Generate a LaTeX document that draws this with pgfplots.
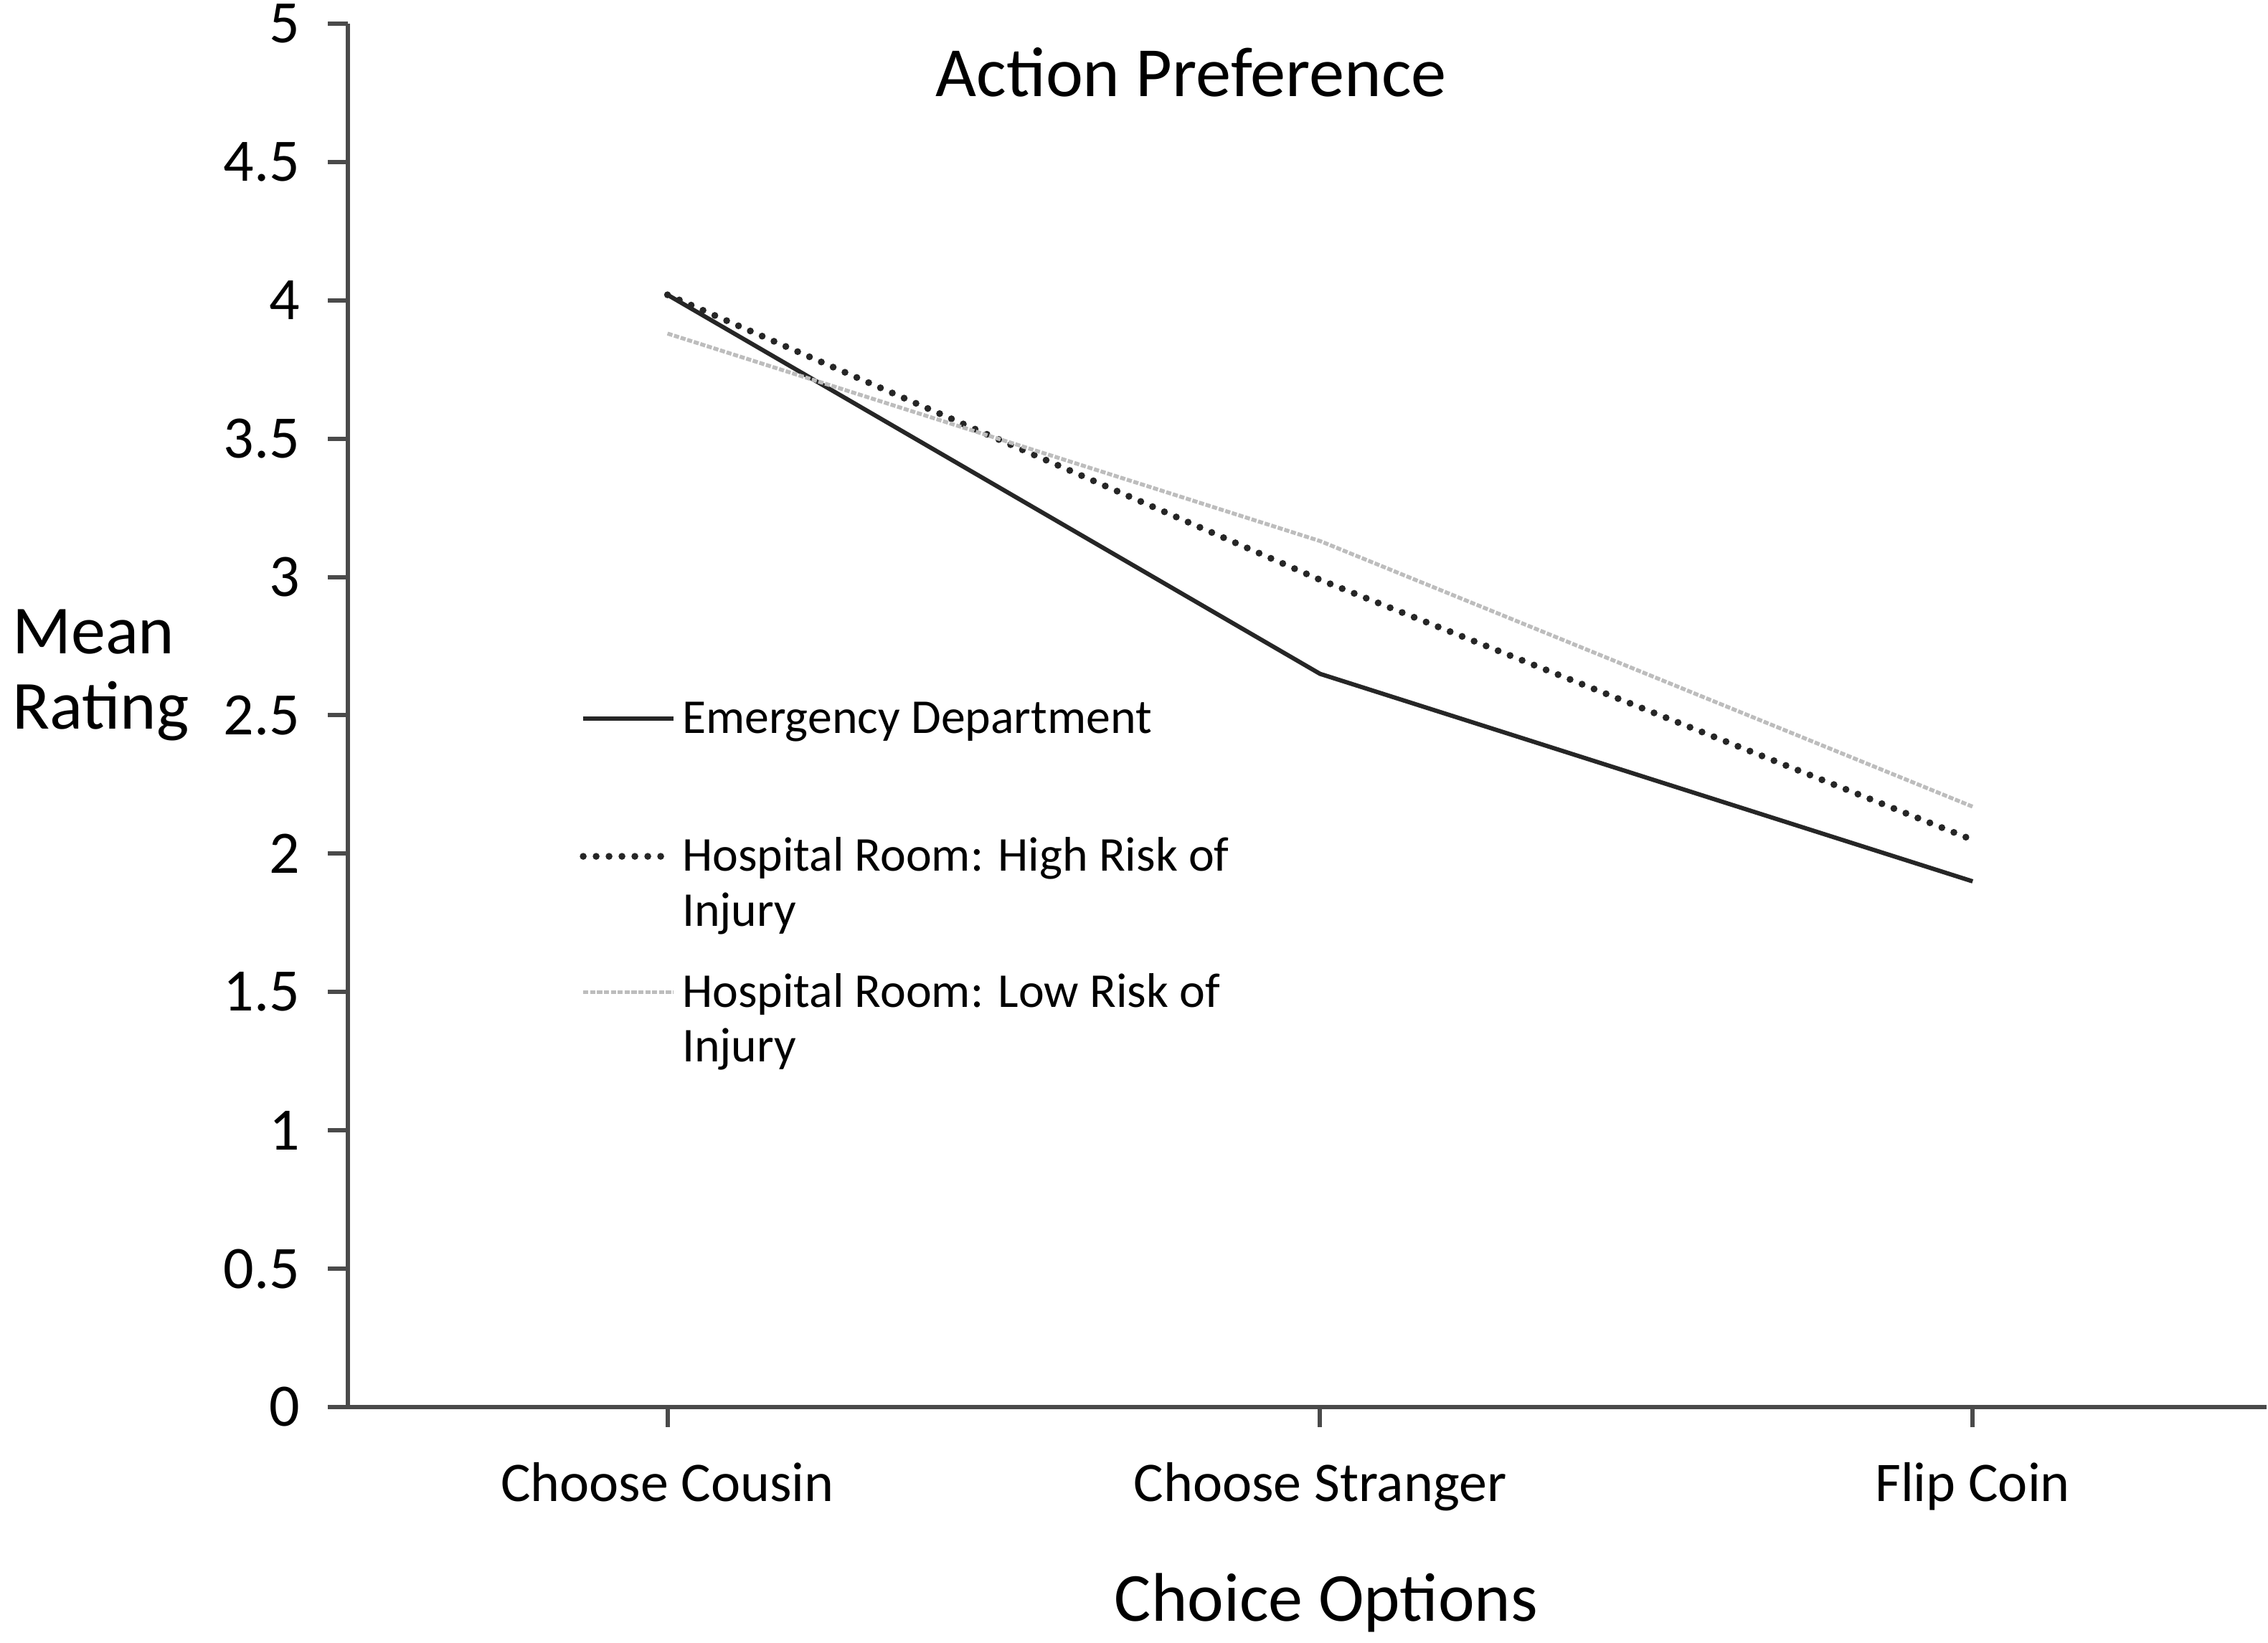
\documentclass[border=0pt]{standalone}
\usepackage{fontspec}
\setmainfont{Carlito}
\usepackage{pgfplots}
\pgfplotsset{compat=1.18}

\definecolor{axisgray}{HTML}{4A4A4A}
\definecolor{lowgray}{HTML}{BDBDBD}

\begin{document}
\begin{tikzpicture}
\useasboundingbox (-80.8pt,-54.8pt) rectangle (446.2pt,327pt);
\begin{axis}[
  width=445.8pt, height=321.5pt, scale only axis,
  xmin=-0.49, xmax=2.45, ymin=0, ymax=5,
  axis lines*=left,
  axis line style={axisgray, line width=1.1pt},
  tick style={axisgray, line width=1pt},
  tick align=outside, major tick length=4.6pt,
  xtick={0,1,2},
  xticklabels={Choose Cousin, Choose Stranger, Flip Coin},
  ytick={0,0.5,1,1.5,2,2.5,3,3.5,4,4.5,5},
  yticklabels={0,0.5,1,1.5,2,2.5,3,3.5,4,4.5,5},
  xticklabel style={font=\fontsize{13}{15}\selectfont, anchor=base, yshift=-17.3pt},
  yticklabel style={font=\fontsize{14}{16}\selectfont, anchor=east, inner sep=0pt, xshift=-6.3pt},
  title={Action Preference},
  every axis title/.style={at={(axis description cs:0.4396,0.9647)}, anchor=center,
    font=\fontsize{16.4}{19}\selectfont},
  xlabel={Choice Options},
  every axis x label/.style={at={(axis description cs:0.51,0)}, anchor=base,
    yshift=-49.7pt, font=\fontsize{16}{19}\selectfont},
  ylabel={Mean\\Rating},
  every axis y label/.style={at={(axis description cs:-0.1753,0.529)}, anchor=west,
    align=left, inner sep=0pt, font=\fontsize{16}{17.5}\selectfont},
  legend style={at={(axis description cs:0.1205,0.5155)}, anchor=north west,
    draw=none, fill=none, inner sep=0pt, row sep=0pt,
    nodes={inner sep=0pt, text depth=, font=\fontsize{11.3}{13}\selectfont},
    cells={anchor=base west},
    /tikz/every odd column/.append style={column sep=1.2pt}},
  legend image code/.code={\draw[#1] (0pt,3.4pt) -- (21pt,3.4pt);},
]
% Emergency Department
\addplot[black!85, line width=1pt] coordinates {(0,4.02) (1,2.65) (2,1.90)};
\addlegendentry{\rule[-22.95pt]{0pt}{31.95pt}Emergency Department}
% Hospital Room: High Risk of Injury
\addplot[black!85, line width=1.6pt, line cap=round, dash pattern=on 0pt off 3pt]
  coordinates {(0,4.02) (1,2.99) (2,2.05)};
\addlegendentry{\rule[-3.78pt]{0pt}{12.78pt}Hospital Room: High Risk of}
\addlegendimage{empty legend}
\addlegendentry{\rule[-9.83pt]{0pt}{18.83pt}Injury}
% Hospital Room: Low Risk of Injury
\addplot[lowgray, line width=0.9pt, dash pattern=on 1.2pt off 0.4pt]
  coordinates {(0,3.88) (1,3.13) (2,2.17)};
\addlegendentry{\rule[-3.78pt]{0pt}{12.78pt}Hospital Room: Low Risk of}
\addlegendimage{empty legend}
\addlegendentry{\rule[-3.78pt]{0pt}{12.78pt}Injury}
\end{axis}
\end{tikzpicture}
\end{document}
